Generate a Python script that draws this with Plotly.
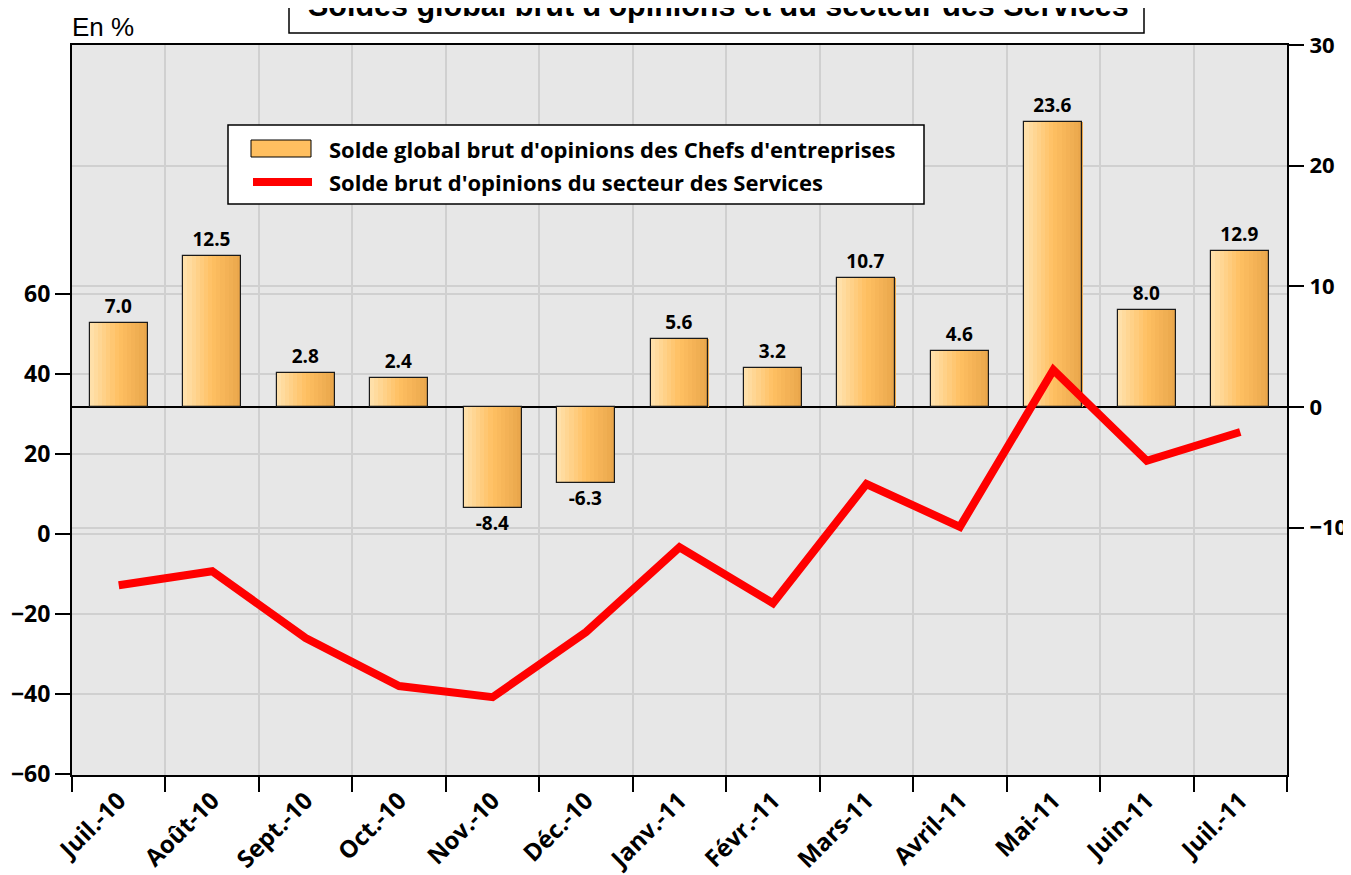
import plotly.graph_objects as go

months = ["Juil.-10", "Août-10", "Sept.-10", "Oct.-10", "Nov.-10", "Déc.-10",
          "Janv.-11", "Févr.-11", "Mars-11", "Avril-11", "Mai-11", "Juin-11", "Juil.-11"]
solde_global = [7.0, 12.5, 2.8, 2.4, -8.4, -6.3, 5.6, 3.2, 10.7, 4.6, 23.6, 8.0, 12.9]
solde_services = [-12.8, -9.3, -26.0, -38.0, -40.8, -24.5, -3.3, -17.3, 12.5, 1.8, 41.0, 18.3, 25.5]

left_ticks = [-60, -40, -20, 0, 20, 40, 60]
right_ticks = [-10, 0, 10, 20, 30]

BAR_NAME = "Solde global brut d'opinions des Chefs d'entreprises"
LINE_NAME = "Solde brut d'opinions du secteur des Services"
TITLE = "Soldes global brut d'opinions et du secteur des Services"

FONT = "Open Sans"
ARIAL = "Liberation Sans, Arial"
BAR_COLOR = "#FFBF60"
LINE_COLOR = "#FF0000"
BAR_W = 0.62
N_SLICES = 14
stops = [(0.0, (255, 226, 174)), (0.5, (255, 192, 98)), (1.0, (232, 165, 74))]


def grad(t):
    for (t0, c0), (t1, c1) in zip(stops[:-1], stops[1:]):
        if t <= t1:
            f = (t - t0) / (t1 - t0)
            return "rgb(%d,%d,%d)" % tuple(round(a + (b - a) * f) for a, b in zip(c0, c1))
    return "rgb(%d,%d,%d)" % stops[-1][1]


fig = go.Figure()
sw = BAR_W / N_SLICES
for i in range(N_SLICES):
    fig.add_trace(go.Bar(
        x=months, y=solde_global, width=sw * 1.05, offset=-BAR_W / 2 + i * sw,
        marker=dict(color=grad((i + 0.5) / N_SLICES), line=dict(width=0)),
        showlegend=False, hoverinfo="skip", yaxis="y"))

# outline + value labels
fig.add_trace(go.Bar(
    x=months, y=solde_global, width=BAR_W, offset=-BAR_W / 2, name=BAR_NAME,
    marker=dict(color="rgba(0,0,0,0)", line=dict(color="#1a1a1a", width=1.2)),
    texttemplate="%{y:.1f}", textposition="outside", cliponaxis=False,
    textfont=dict(family=FONT, size=19, color="black", weight="bold"),
    showlegend=False, yaxis="y"))

fig.add_trace(go.Scatter(
    x=months, y=solde_services, mode="lines", name=LINE_NAME, showlegend=False,
    line=dict(color=LINE_COLOR, width=8), yaxis="y2"))

# page offset (browser body margin) and figure geometry
OFF = 8
W, H = 1351 - OFF, 875 - OFF
L, R, T, B = 72 - OFF, 64, 45 - OFF, 100
pw, ph = W - L - R, H - T - B


def px_x(p):
    return (p - OFF - L) / pw


def px_y(p):
    return (H - B - (p - OFF)) / ph


legend_shapes = [
    dict(type="rect", xref="paper", yref="paper", x0=px_x(228), x1=px_x(924),
         y0=px_y(204), y1=px_y(125), line=dict(color="black", width=1.5),
         fillcolor="white", layer="above"),
    dict(type="rect", xref="paper", yref="paper", x0=px_x(251), x1=px_x(311),
         y0=px_y(157), y1=px_y(140), line=dict(color="black", width=1),
         fillcolor=BAR_COLOR, layer="above"),
    dict(type="line", xref="paper", yref="paper", x0=px_x(253), x1=px_x(312),
         y0=px_y(182), y1=px_y(182), line=dict(color=LINE_COLOR, width=8), layer="above"),
]

fig.update_layout(
    width=W, height=H,
    margin=dict(l=L, r=R, t=T, b=B, pad=0, autoexpand=False),
    paper_bgcolor="white", plot_bgcolor="#E7E7E7",
    barmode="overlay", bargap=0,
    font=dict(family=FONT, color="black"),
    showlegend=False,
    xaxis=dict(type="category", tickson="boundaries", showgrid=True, gridcolor="#D0D0D0",
               gridwidth=1.5, ticks="outside", ticklen=15, tickwidth=2, tickcolor="black",
               showline=True, linecolor="black", linewidth=2, mirror=True,
               tickangle=-45, tickfont=dict(family=FONT, size=24, weight="bold"),
               range=[-0.5, len(months) - 0.5]),
    yaxis=dict(side="right", range=[-30.5, 30], tickvals=right_ticks,
               showgrid=True, gridcolor="#D0D0D0", gridwidth=1.5,
               zeroline=True, zerolinecolor="black", zerolinewidth=1.5,
               ticks="outside", ticklen=15, tickwidth=1.5, tickcolor="black",
               showline=True, linecolor="black", linewidth=2, ticklabelstandoff=1,
               tickfont=dict(family=FONT, size=22, weight="bold")),
    yaxis2=dict(overlaying="y", side="left", range=[-60.25, 122.25], tickvals=left_ticks,
                showgrid=True, gridcolor="#D0D0D0", gridwidth=1.5, zeroline=False,
                ticks="outside", ticklen=15, tickwidth=1.5, tickcolor="black",
                showline=True, linecolor="black", linewidth=2,
                tickfont=dict(family=FONT, size=23, weight="bold")),
    shapes=[dict(type="rect", xref="paper", yref="paper",
                 x0=px_x(289), x1=px_x(1144), y0=px_y(33), y1=px_y(-40),
                 line=dict(color="black", width=1.5), fillcolor="white", layer="above")]
           + legend_shapes,
    annotations=[
        dict(text=TITLE, xref="paper", yref="paper", x=px_x(718), y=px_y(5),
             xanchor="center", yanchor="middle", showarrow=False,
             font=dict(family=ARIAL, size=30.5, color="black", weight="bold")),
        dict(text="En %", xref="paper", yref="paper", x=px_x(70), y=px_y(27),
             xanchor="left", yanchor="middle", showarrow=False,
             font=dict(family=ARIAL, size=26, color="black")),
        dict(text=BAR_NAME, xref="paper", yref="paper", x=px_x(327), y=px_y(149),
             xanchor="left", yanchor="middle", showarrow=False,
             font=dict(family=FONT, size=22, color="black", weight="bold")),
        dict(text=LINE_NAME, xref="paper", yref="paper", x=px_x(327), y=px_y(182),
             xanchor="left", yanchor="middle", showarrow=False,
             font=dict(family=FONT, size=22, color="black", weight="bold")),
    ],
)

fig.write_html("out.html")
